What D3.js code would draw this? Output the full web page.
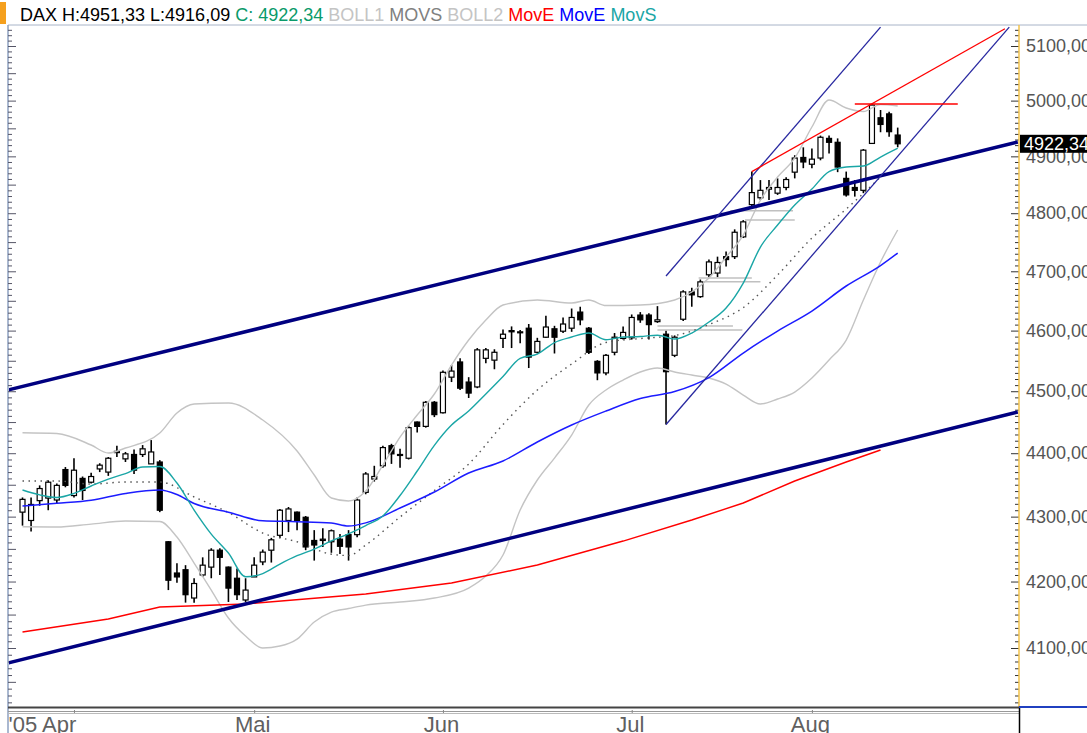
<!DOCTYPE html>
<html>
<head>
<meta charset="utf-8">
<script src="https://cdn.jsdelivr.net/npm/d3@7"></script>
<style>
  body { margin: 0; background: #fff; }
  svg { display: block; font-family: Arial, "Liberation Sans", sans-serif; }
</style>
</head>
<body>
<script>
// ---- data: DAX daily candles, 22 Mar - 15 Aug 2005 (trading-day index) ----
var opens = [
  4307, 4294, 4325, 4329, 4326, 4374, 4333, 4360, 4354, 4375,
  4370, 4401, 4391, 4398, 4398, 4383, 4386, 4261, 4213, 4218,
  4175, 4210, 4222, 4248, 4222, 4205, 4172, 4207, 4230, 4248,
  4271, 4294, 4307, 4299, 4263, 4263, 4261, 4265, 4272, 4272,
  4338, 4359, 4380, 4412, 4398, 4392, 4450, 4443, 4482, 4465,
  4523, 4548, 4515, 4507, 4554, 4551, 4587, 4598, 4597, 4604,
  4564, 4589, 4603, 4599, 4604, 4631, 4604, 4549, 4530, 4564,
  4587, 4588, 4626, 4626, 4615, 4594, 4559, 4619, 4665, 4657,
  4694, 4697, 4725, 4725, 4759, 4815, 4827, 4842, 4835, 4845,
  4872, 4898, 4886, 4897, 4932, 4925, 4861, 4845, 4840, 4923,
  4969, 4976, 4938
];
var highs = [
  4330, 4330, 4349, 4357, 4352, 4378, 4392, 4363, 4369, 4384,
  4394, 4412, 4402, 4406, 4413, 4421, 4389, 4262, 4228, 4225,
  4205, 4237, 4251, 4251, 4223, 4220, 4205, 4237, 4249, 4267,
  4312, 4315, 4308, 4301, 4279, 4282, 4280, 4273, 4279, 4330,
  4370, 4380, 4412, 4415, 4407, 4444, 4451, 4484, 4484, 4534,
  4543, 4554, 4523, 4571, 4571, 4569, 4602, 4607, 4601, 4611,
  4588, 4625, 4608, 4622, 4637, 4640, 4606, 4551, 4561, 4596,
  4607, 4627, 4631, 4629, 4641, 4600, 4592, 4668, 4672, 4686,
  4720, 4725, 4734, 4772, 4788, 4873, 4858, 4858, 4861, 4863,
  4902, 4916, 4914, 4937, 4937, 4932, 4873, 4858, 4913, 4994,
  4983, 4980, 4951.33
];
var lows = [
  4286, 4277, 4317, 4310, 4320, 4346, 4330, 4326, 4352, 4370,
  4364, 4394, 4386, 4367, 4394, 4383, 4307, 4187, 4198, 4168,
  4168, 4207, 4205, 4210, 4169, 4172, 4169, 4207, 4225, 4229,
  4267, 4276, 4279, 4248, 4232, 4253, 4244, 4242, 4232, 4268,
  4335, 4355, 4377, 4383, 4377, 4390, 4433, 4441, 4458, 4464,
  4515, 4502, 4489, 4505, 4546, 4536, 4571, 4571, 4579, 4538,
  4562, 4588, 4562, 4596, 4598, 4609, 4561, 4518, 4526, 4559,
  4585, 4585, 4613, 4585, 4613, 4446, 4556, 4616, 4640, 4655,
  4690, 4690, 4708, 4721, 4757, 4811, 4823, 4823, 4832, 4840,
  4861, 4879, 4879, 4893, 4905, 4872, 4829, 4829, 4835, 4922,
  4943, 4935, 4916.09
];
var closes = [
  4327, 4319, 4344, 4354, 4349, 4349, 4373, 4341, 4363, 4381,
  4392, 4403, 4399, 4373, 4407, 4402, 4310, 4202, 4207, 4180,
  4197, 4225, 4248, 4237, 4190, 4180, 4187, 4225, 4245, 4264,
  4310, 4312, 4294, 4253, 4256, 4265, 4278, 4254, 4253, 4326,
  4367, 4363, 4409, 4399, 4397, 4441, 4443, 4482, 4462, 4531,
  4533, 4505, 4497, 4568, 4568, 4564, 4594, 4600, 4598, 4556,
  4582, 4606, 4589, 4611, 4622, 4618, 4564, 4530, 4559, 4589,
  4597, 4622, 4618, 4610, 4618, 4532, 4589, 4665, 4660, 4682,
  4716, 4715, 4720, 4767, 4785, 4836, 4840, 4845, 4845, 4859,
  4897, 4890, 4895, 4934, 4925, 4881, 4832, 4840, 4911, 4992,
  4957, 4944, 4922.34
];

// month labels and the trading-day index of each month start
var monthLabels = ["'05 Apr", "Mai", "Jun", "Jul", "Aug"];
var monthStarts = [6, 27, 49, 71, 92];

// price labels on the right axis
var priceLabels = [4100, 4200, 4300, 4400, 4500, 4600, 4700, 4800, 4900, 5000, 5100];
var lastClose = 4922.34;

// indicator lines, [trading-day index, value]
var movEred = [[0, 4123.8], [10, 4143.3], [16, 4161.3], [26, 4165.9], [40, 4181.0], [50, 4197.7],
  [60, 4225.2], [70, 4262.1], [78, 4294.7], [84, 4321.3], [90, 4355.9], [96, 4386.0], [100, 4405.1]];

var movEblue = [[0, 4316.6], [4, 4320.8], [8, 4325.6], [12, 4336.2], [16, 4341.7], [18, 4334.6],
  [20, 4320.5], [24, 4306.9], [28, 4293.5], [32, 4292.2], [36, 4290.0], [38, 4285.4], [40, 4290.3],
  [44, 4313.4], [48, 4338.5], [52, 4368.5], [56, 4387.6], [60, 4417.9], [64, 4445.2], [68, 4467.8],
  [72, 4488.1], [76, 4499.5], [80, 4522.4], [84, 4562.8], [88, 4599.3], [92, 4632.8], [96, 4675.0],
  [100, 4709.8], [102, 4731.2]];

var movS = [[0, 4341.7], [2, 4334.1], [4, 4329.9], [6, 4336.3], [8, 4348.0], [10, 4359.0], [12, 4367.7],
  [14, 4378.0], [16, 4378.8], [18, 4352.7], [20, 4310.3], [22, 4272.9], [24, 4243.6], [26, 4207.3],
  [28, 4212.2], [30, 4226.7], [32, 4239.5], [34, 4249.8], [36, 4262.4], [38, 4273.3], [40, 4286.1],
  [42, 4301.0], [44, 4333.0], [46, 4371.7], [48, 4412.6], [50, 4445.2], [52, 4467.8], [54, 4495.5],
  [56, 4524.1], [58, 4554.0], [60, 4561.1], [62, 4580.2], [64, 4589.3], [66, 4596.0], [68, 4584.8],
  [70, 4589.3], [72, 4590.2], [74, 4592.3], [76, 4586.0], [78, 4596.0], [80, 4614.3], [82, 4637.8],
  [84, 4680.0], [86, 4741.5], [88, 4779.5], [90, 4814.3], [92, 4842.3], [94, 4873.1], [96, 4881.1],
  [98, 4882.8], [100, 4898.8], [102, 4914.2]];

var movSdotted = [[0, 4355.9], [4, 4355.9], [8, 4351.1], [12, 4354.3], [16, 4354.3], [20, 4330.7],
  [24, 4306.4], [28, 4274.5], [32, 4261.0], [36, 4241.8], [38, 4239.8], [40, 4255.9], [44, 4299.4],
  [48, 4340.9], [52, 4382.8], [56, 4446.0], [60, 4502.0], [64, 4544.6], [68, 4580.2], [72, 4586.8],
  [76, 4591.8], [80, 4610.1], [84, 4638.6], [88, 4693.6], [92, 4757.0], [96, 4807.3], [100, 4863.4]];

var bollUpper = [[0, 4432.8], [4, 4431.5], [8, 4413.1], [10, 4400.3], [12, 4408.3], [16, 4432.3],
  [18, 4464.6], [20, 4479.2], [24, 4480.8], [28, 4453.3], [32, 4403.5], [34, 4365.4], [36, 4329.1],
  [38, 4324.4], [40, 4340.1], [42, 4381.2], [44, 4425.9], [46, 4461.4], [48, 4495.5], [50, 4542.9],
  [52, 4584.3], [54, 4617.7], [56, 4642.9], [60, 4651.3], [64, 4646.2], [66, 4651.3], [68, 4642.0],
  [72, 4642.9], [76, 4651.3], [78, 4664.8], [80, 4688.5], [82, 4724.4], [84, 4762.2], [86, 4823.0],
  [88, 4863.4], [90, 4897.0], [92, 4952.4], [94, 5001.1], [96, 4986.6], [98, 4980.3], [100, 4993.0],
  [102, 4990.3]];

var bollLower = [[0, 4284.3], [4, 4283.8], [8, 4288.4], [12, 4293.1], [16, 4292.4], [18, 4268.3],
  [20, 4228.3], [22, 4187.1], [24, 4144.8], [26, 4117.8], [28, 4100.0], [30, 4102.9], [32, 4113.3],
  [34, 4138.8], [36, 4153.8], [38, 4159.1], [40, 4164.3], [44, 4168.9], [48, 4175.0], [52, 4190.1],
  [54, 4208.4], [56, 4240.6], [58, 4310.3], [60, 4357.5], [62, 4392.3], [64, 4429.1], [66, 4477.6],
  [68, 4502.0], [70, 4518.3], [72, 4531.5], [74, 4538.0], [76, 4531.5], [78, 4526.5], [80, 4521.6],
  [82, 4511.8], [84, 4493.8], [86, 4479.2], [88, 4487.3], [90, 4498.7], [92, 4521.6], [94, 4551.2],
  [96, 4584.3], [98, 4651.3], [100, 4715.8], [102, 4770.9]];

// drawn trend lines, [index, value] end points
var trendUpper = [[-2, 4500.9], [116, 4925.5]];
var trendLower = [[-2, 4076.7], [116, 4466.2]];
var channelUpper = [[75, 4692], [100, 5135]];
var channelLower = [[75, 4446], [115, 5135]];
var redTrend = [[85, 4873], [114.5, 5132]];
var redLevel = [[97, 4994], [109, 4994]];

// grey horizontal levels: [start index, end index, value]
var greyLevels = [[74, 82.8, 4607.7], [74, 83.9, 4601], [78.8, 85, 4688.5], [79.3, 86, 4682.3],
  [82.5, 89.8, 4804.4], [84.2, 90, 4788.2]];

// ---- layout ----
var svgWidth = 1087, svgHeight = 733;
var plotLeft = 9, plotRight = 1019, plotTop = 25, plotBottom = 707;

var xScale = d3.scaleLinear()
  .domain([0, 102])
  .range([22.5, 897.7]);

var yScale = d3.scaleLog()
  .domain([4100, 5100])
  .range([648, 46]);

var svg = d3.select('body')
  .append('svg')
  .attr('width', svgWidth)
  .attr('height', svgHeight);

svg.append('clipPath')
  .attr('id', 'plot-area')
  .append('rect')
  .attr('x', plotLeft)
  .attr('y', plotTop)
  .attr('width', plotRight - plotLeft)
  .attr('height', plotBottom - plotTop);

// header
svg.append('rect')
  .attr('x', 0).attr('y', 2)
  .attr('width', 6).attr('height', 22)
  .attr('fill', '#f5a01e');

var header = svg.append('text')
  .attr('x', 20)
  .attr('y', 21)
  .attr('font-size', 18)
  .attr('xml:space', 'preserve');
[['DAX H:4951,33 L:4916,09 ', '#000'], ['C: 4922,34 ', '#0a9a6a'], ['BOLL1 ', '#c4c4c4'],
 ['MOVS ', '#808080'], ['BOLL2 ', '#c4c4c4'], ['MovE ', '#ff0000'], ['MovE ', '#0000ff'],
 ['MovS', '#1aa6a6']].forEach(function (p) {
  header.append('tspan').attr('fill', p[1]).text(p[0]);
});

// frame
svg.append('line')
  .attr('x1', plotLeft - 1).attr('x2', svgWidth)
  .attr('y1', plotTop).attr('y2', plotTop)
  .attr('stroke', '#a8b4c8').attr('stroke-width', 1);

svg.append('line')
  .attr('x1', 8).attr('x2', 8)
  .attr('y1', plotTop).attr('y2', svgHeight)
  .attr('stroke', '#8ea0c0').attr('stroke-width', 1.5);

// left axis ticks
var minorTicks = d3.range(4020, 5140, 10);
svg.append('g')
  .attr('transform', `translate(${8}, 0)`)
  .call(d3.axisRight(yScale).tickValues(minorTicks.filter(v => v % 50 !== 0)).tickSize(4).tickFormat(''))
  .call(g => g.select('.domain').remove())
  .selectAll('line').attr('stroke', '#556');
svg.append('g')
  .attr('transform', `translate(${8}, 0)`)
  .call(d3.axisRight(yScale).tickValues(minorTicks.filter(v => v % 50 === 0)).tickSize(8).tickFormat(''))
  .call(g => g.select('.domain').remove())
  .selectAll('line').attr('stroke', '#556');

// right axis ticks
svg.append('g')
  .attr('transform', `translate(${plotRight}, 0)`)
  .call(d3.axisLeft(yScale).tickValues(minorTicks.filter(v => v % 100 !== 0)).tickSize(4).tickFormat(''))
  .call(g => g.select('.domain').remove())
  .selectAll('line').attr('stroke', '#333');
svg.append('g')
  .attr('transform', `translate(${plotRight}, 0)`)
  .call(d3.axisLeft(yScale).tickValues(minorTicks.filter(v => v % 100 === 0)).tickSize(8).tickFormat(''))
  .call(g => g.select('.domain').remove())
  .selectAll('line').attr('stroke', '#333');

// ---- plot ----
var plot = svg.append('g').attr('clip-path', 'url(#plot-area)');

var lineGen = function (curve) {
  return d3.line()
    .x(d => xScale(d[0]))
    .y(d => yScale(d[1]))
    .curve(curve || d3.curveLinear);
};

function drawLine(data, color, width, curve, dash) {
  plot.append('path')
    .datum(data)
    .attr('fill', 'none')
    .attr('stroke', color)
    .attr('stroke-width', width)
    .attr('stroke-dasharray', dash || null)
    .attr('d', lineGen(curve));
}

// candles
var candles = d3.range(opens.length).map(i => ({
  i: i, o: opens[i], h: highs[i], l: lows[i], c: closes[i]
}));

var candle = plot.append('g')
  .attr('id', 'candles')
  .selectAll('g')
  .data(candles)
  .enter()
  .append('g');

candle.append('line')
  .attr('x1', d => xScale(d.i))
  .attr('x2', d => xScale(d.i))
  .attr('y1', d => yScale(d.h))
  .attr('y2', d => yScale(d.l))
  .attr('stroke', '#000')
  .attr('stroke-width', 1.6);

candle.append('rect')
  .attr('x', d => xScale(d.i) - 2.5)
  .attr('width', 5)
  .attr('y', d => yScale(Math.max(d.o, d.c)))
  .attr('height', d => Math.max(1, Math.abs(yScale(d.o) - yScale(d.c))))
  .attr('fill', d => d.c >= d.o ? '#fff' : '#000')
  .attr('stroke', '#000')
  .attr('stroke-width', 1.2);

// bollinger bands
drawLine(bollUpper, '#c4c4c4', 1.4, d3.curveMonotoneX);
drawLine(bollLower, '#c4c4c4', 1.4, d3.curveMonotoneX);

// grey levels
plot.append('g')
  .selectAll('line')
  .data(greyLevels)
  .enter()
  .append('line')
  .attr('x1', d => xScale(d[0]))
  .attr('x2', d => xScale(d[1]))
  .attr('y1', d => yScale(d[2]))
  .attr('y2', d => yScale(d[2]))
  .attr('stroke', '#c0c0c0')
  .attr('stroke-width', 1.5);

// moving averages
drawLine(movSdotted, '#555', 1.4, d3.curveMonotoneX, '1.5,4.5');
drawLine(movEred, '#ff0000', 1.4);
drawLine(movEblue, '#1c1cff', 1.5, d3.curveMonotoneX);
drawLine(movS, '#1aa6a6', 1.4, d3.curveMonotoneX);

// trend lines
drawLine(trendUpper, '#000080', 3.5);
drawLine(trendLower, '#000080', 3.5);
drawLine(channelUpper, '#2828a0', 1.3);
drawLine(channelLower, '#2828a0', 1.3);
drawLine(redTrend, '#ff0000', 1.3);
drawLine(redLevel, '#ff0000', 1.5);

// ---- right axis ----
svg.append('line')
  .attr('x1', plotRight).attr('x2', plotRight)
  .attr('y1', plotTop).attr('y2', plotBottom)
  .attr('stroke', '#f2c24a').attr('stroke-width', 1.5);

var fmt = v => d3.format('.2f')(v).replace('.', ',');

svg.append('g')
  .attr('transform', `translate(${plotRight}, 0)`)
  .call(d3.axisRight(yScale).tickValues(priceLabels).tickSize(0).tickPadding(7).tickFormat(fmt))
  .call(g => g.select('.domain').remove())
  .selectAll('text')
  .attr('font-size', 18)
  .attr('font-family', 'Arial, "Liberation Sans", sans-serif')
  .attr('fill', '#555');

svg.append('rect')
  .attr('x', plotRight + 1)
  .attr('y', yScale(lastClose) - 9)
  .attr('width', svgWidth - plotRight)
  .attr('height', 18)
  .attr('fill', '#000');

svg.append('text')
  .attr('x', plotRight + 5)
  .attr('y', yScale(lastClose))
  .attr('dy', '0.36em')
  .attr('font-size', 18)
  .attr('fill', '#fff')
  .text(fmt(lastClose));

// ---- bottom axis ----
svg.append('line')
  .attr('x1', 8).attr('x2', plotRight)
  .attr('y1', 707.5).attr('y2', 707.5)
  .attr('stroke', '#444').attr('stroke-width', 2);
svg.append('line')
  .attr('x1', 8).attr('x2', plotRight)
  .attr('y1', 711.5).attr('y2', 711.5)
  .attr('stroke', '#999').attr('stroke-width', 1);
svg.append('line')
  .attr('x1', 8).attr('x2', plotRight)
  .attr('y1', 713.5).attr('y2', 713.5)
  .attr('stroke', '#bbb').attr('stroke-width', 1);
svg.append('line')
  .attr('x1', plotRight).attr('x2', svgWidth)
  .attr('y1', 707).attr('y2', 707)
  .attr('stroke', '#2040c0').attr('stroke-width', 2);
svg.append('line')
  .attr('x1', plotRight + 0.5).attr('x2', plotRight + 0.5)
  .attr('y1', 708).attr('y2', svgHeight)
  .attr('stroke', '#000').attr('stroke-width', 1.5);

var xAxis = d3.axisBottom(xScale)
  .tickValues(monthStarts)
  .tickSize(3)
  .tickFormat((d, k) => monthLabels[k]);

var xg = svg.append('g')
  .attr('transform', `translate(0, ${710})`)
  .call(xAxis)
  .call(g => g.select('.domain').remove());

xg.selectAll('line').attr('stroke', '#888');
xg.selectAll('text')
  .attr('font-size', 22)
  .attr('font-family', 'Arial, "Liberation Sans", sans-serif')
  .attr('fill', '#606060')
  .attr('y', 22)
  .attr('dy', 0)
  .attr('text-anchor', (d, k) => k === 0 ? 'start' : 'middle')
  .attr('x', (d, k) => k === 0 ? 8 - xScale(d) : -2);
</script>
</body>
</html>
